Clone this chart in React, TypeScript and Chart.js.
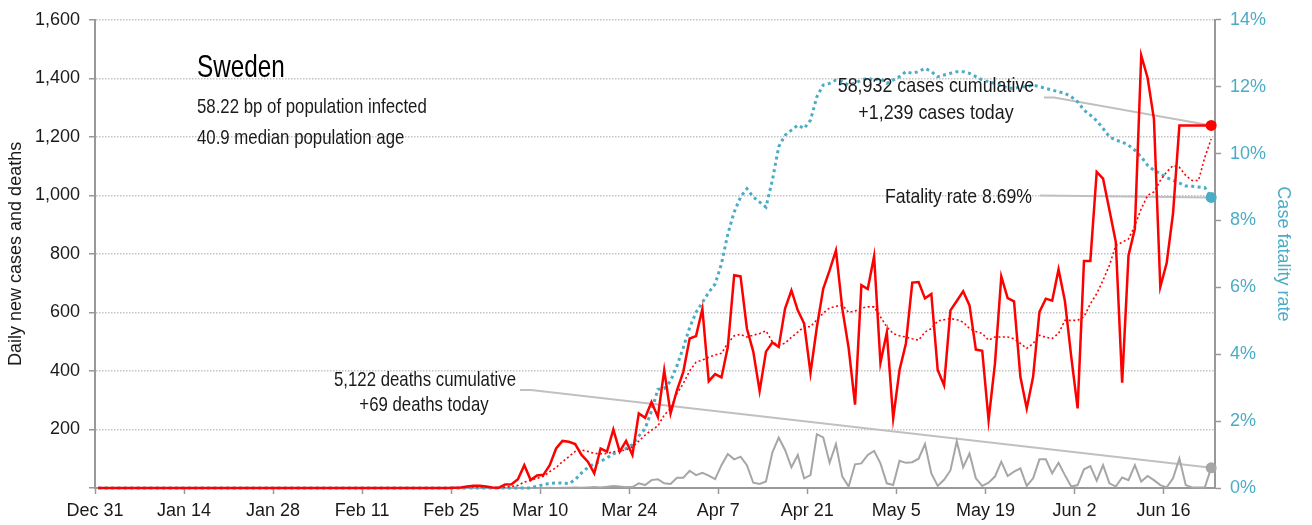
import React, { useEffect, useRef } from 'react';
import { Chart, registerables } from 'chart.js';

Chart.register(...registerables);

// ---------- data ----------
const X_TICK_DAYS = [0, 14, 28, 42, 56, 70, 84, 98, 112, 126, 140, 154, 168];
const X_TICK_LABELS = ['Dec 31', 'Jan 14', 'Jan 28', 'Feb 11', 'Feb 25', 'Mar 10', 'Mar 24', 'Apr 7', 'Apr 21', 'May 5', 'May 19', 'Jun 2', 'Jun 16'];
const X_MAX_DAY = 176.1;
const DAY_POINT_OFFSET = 0.5; // daily values are plotted mid-day

const dailyCases = [
  0, 0, 0, 0, 0, 0, 0, 0, 0, 0,
  0, 0, 0, 0, 0, 0, 0, 0, 0, 0,
  0, 0, 0, 0, 0, 0, 0, 0, 0, 0,
  0, 0, 0, 0, 0, 0, 0, 0, 0, 0,
  0, 0, 0, 0, 0, 0, 0, 0, 0, 0,
  0, 0, 0, 0, 0, 0, 1, 2, 5, 8,
  8, 5, 2, 1, 12, 13, 30, 78, 27, 43,
  45, 78, 135, 161, 158, 150, 113, 90, 50, 135,
  124, 200, 124, 161, 113, 255, 240, 294, 243, 403,
  255, 334, 397, 511, 519, 612, 365, 389, 378, 482,
  727, 723, 545, 466, 332, 466, 497, 482, 613, 675,
  607, 562, 393, 550, 681, 744, 812, 613, 478, 285,
  693, 680, 792, 428, 532, 238, 403, 494, 702, 704,
  648, 663, 403, 351, 607, 639, 672, 624, 473, 469,
  232, 425, 723, 649, 638, 380, 272, 380, 602, 647,
  640, 747, 639, 448, 272, 776, 776, 1080, 1057, 950,
  841, 360, 795, 886, 1478, 1402, 1261, 687, 769, 938,
  1239, 1239, 1239, 1239, 1239, 1239,
];

const casesAverage = [
  0, 0, 0, 0, 0, 0, 0, 0, 0, 0,
  0, 0, 0, 0, 0, 0, 0, 0, 0, 0,
  0, 0, 0, 0, 0, 0, 0, 0, 0, 0,
  0, 0, 0, 0, 0, 0, 0, 0, 0, 0,
  0, 0, 0, 0, 0, 0, 0, 0, 0, 0,
  0, 0, 0, 0, 0, 0, 0, 0, 0, 0,
  0, 0, 0, 1, 3, 5, 9, 20, 27, 33,
  40, 56, 70, 90, 107, 125, 130, 125, 118, 117,
  118, 124, 127, 130, 140, 160, 181, 198, 212, 249,
  272, 323, 357, 400, 430, 437, 447, 455, 460, 495,
  520, 525, 516, 522, 528, 537, 500, 488, 495, 515,
  533, 551, 551, 575, 598, 615, 621, 625, 600, 605,
  615, 619, 619, 585, 550, 528, 520, 516, 510, 505,
  533, 545, 571, 575, 579, 575, 567, 545, 535, 528,
  505, 516, 516, 516, 510, 494, 477, 494, 522, 515,
  511, 528, 573, 573, 573, 585, 630, 664, 710, 761,
  829, 840, 851, 897, 954, 1000, 1012, 1051, 1080, 1102,
  1096, 1068, 1051, 1051, 1130, 1193,
];

const dailyDeaths = [
  0, 0, 0, 0, 0, 0, 0, 0, 0, 0,
  0, 0, 0, 0, 0, 0, 0, 0, 0, 0,
  0, 0, 0, 0, 0, 0, 0, 0, 0, 0,
  0, 0, 0, 0, 0, 0, 0, 0, 0, 0,
  0, 0, 0, 0, 0, 0, 0, 0, 0, 0,
  0, 0, 0, 0, 0, 0, 0, 0, 0, 0,
  0, 0, 0, 0, 0, 0, 0, 0, 0, 0,
  0, 1, 0, 1, 1, 2, 1, 2, 3, 2,
  4, 7, 5, 3, 3, 16, 10, 27, 30, 16,
  14, 35, 35, 59, 44, 52, 42, 30, 78, 116,
  98, 107, 78, 18, 14, 22, 121, 172, 130, 71,
  113, 33, 44, 184, 173, 86, 150, 39, 5, 81,
  84, 113, 127, 84, 16, 10, 93, 86, 88, 100,
  150, 50, 7, 28, 60, 160, 71, 118, 33, 7,
  18, 39, 90, 41, 56, 67, 7, 33, 98, 98,
  50, 86, 44, 5, 10, 64, 75, 25, 78, 16,
  5, 36, 27, 78, 22, 41, 27, 10, 2, 33,
  101, 10, 2, 2, 2, 69,
];

const fatalityRate = [
  0, 0, 0, 0, 0, 0, 0, 0, 0, 0,
  0, 0, 0, 0, 0, 0, 0, 0, 0, 0,
  0, 0, 0, 0, 0, 0, 0, 0, 0, 0,
  0, 0, 0, 0, 0, 0, 0, 0, 0, 0,
  0, 0, 0, 0, 0, 0, 0, 0, 0, 0,
  0, 0, 0, 0, 0, 0, 0, 0, 0, 0,
  0, 0, 0, 0, 0, 0, 0, 0, 0, 0.05,
  0.1, 0.14, 0.15, 0.15, 0.13, 0.25, 0.45, 0.62, 0.72, 0.8,
  0.9, 1.02, 1.1, 1.18, 1.3, 1.55, 1.78, 2.3, 2.95, 2.97,
  3.2, 3.65, 4.2, 4.8, 5.25, 5.55, 5.85, 6.1, 6.7, 7.6,
  8.25, 8.7, 8.95, 8.7, 8.55, 8.4, 9.2, 10.2, 10.55, 10.7,
  10.85, 10.75, 11.0, 11.7, 12.05, 12.1, 12.2, 12.15, 12.05, 12.1,
  12.2, 12.25, 12.2, 12.25, 12.1, 12.2, 12.3, 12.45, 12.4, 12.45,
  12.55, 12.45, 12.3, 12.35, 12.4, 12.45, 12.45, 12.4, 12.3, 12.2,
  12.15, 12.1, 12.05, 11.95, 11.95, 12.0, 12.0, 12.05, 12.0, 11.95,
  11.9, 11.85, 11.8, 11.7, 11.55, 11.3, 11.15, 10.98, 10.75, 10.5,
  10.4, 10.35, 10.25, 10.1, 9.9, 9.65, 9.5, 9.4, 9.28, 9.2,
  9.12, 9.03, 9.02, 9.0, 8.98, 8.69,
];

const TITLE = 'Sweden';
const SUBTITLE_LINES = ['58.22 bp of population infected', '40.9 median population age'];
const CASES_NOTE = ['58,932 cases cumulative', '+1,239 cases today'];
const FATALITY_NOTE = 'Fatality rate 8.69%';
const DEATHS_NOTE = ['5,122 deaths cumulative', '+69 deaths today'];

// ---------- styles ----------
const RED = '#ff0000';
const BLUE = '#4bacc6';
const GRAY = '#a6a6a6';
const AXIS = '#999999';
const TEXT = '#1a1a1a';
const LEADER = '#c0c0c0';

function hasFont(name: string): boolean {
  const c = document.createElement('canvas').getContext('2d');
  if (!c) return false;
  const s = 'abcdefghijklmnopqrstuvwxyzABCDEFGHIJ0123456789';
  c.font = '40px monospace';
  const a = c.measureText(s).width;
  c.font = `40px "${name}", monospace`;
  const b = c.measureText(s).width;
  c.font = '40px serif';
  const a2 = c.measureText(s).width;
  c.font = `40px "${name}", serif`;
  const b2 = c.measureText(s).width;
  return a !== b || a2 !== b2;
}

function drawScaledText(
  ctx: CanvasRenderingContext2D,
  text: string,
  x: number,
  y: number,
  font: string,
  sx: number,
  align: 'left' | 'center' | 'right',
  color: string
) {
  ctx.save();
  ctx.font = font;
  ctx.fillStyle = color;
  ctx.textBaseline = 'alphabetic';
  ctx.textAlign = 'left';
  const w = ctx.measureText(text).width * sx;
  const x0 = align === 'center' ? x - w / 2 : align === 'right' ? x - w : x;
  ctx.translate(x0, y);
  ctx.scale(sx, 1);
  ctx.fillText(text, 0, 0);
  ctx.restore();
}

export default function App() {
  const canvasRef = useRef<HTMLCanvasElement>(null);

  useEffect(() => {
    document.body.style.margin = '0';
    const canvas = canvasRef.current;
    if (!canvas) return;

    const narrow = hasFont('Liberation Sans Narrow');
    const family = narrow ? '"Liberation Sans Narrow", "Liberation Sans", sans-serif' : '"Liberation Sans", Arial, sans-serif';
    const tickSize = narrow ? 20 : 18;
    const titleSize = narrow ? 21 : 18;
    const k = narrow ? 1 / 0.82 : 1;
    const bigScale = 0.76 * k;

    const last = dailyCases.length - 1;
    const dayPositions = dailyCases.map((_, i) => i + DAY_POINT_OFFSET);
    const endDot = (color: string) => ({
      pointRadius: (c: any) => (c.dataIndex === last ? 5.5 : 0),
      pointHoverRadius: 0,
      pointBackgroundColor: color,
      pointBorderWidth: 0,
    });

    const notesPlugin = {
      id: 'notes',
      beforeDatasetsDraw(chart: any) {
        const ctx: CanvasRenderingContext2D = chart.ctx;
        const pc = chart.getDatasetMeta(0).data[last];
        const pf = chart.getDatasetMeta(2).data[last];
        const pd = chart.getDatasetMeta(3).data[last];
        const path = (pts: number[][]) => {
          ctx.beginPath();
          ctx.moveTo(pts[0][0], pts[0][1]);
          for (let i = 1; i < pts.length; i++) ctx.lineTo(pts[i][0], pts[i][1]);
          ctx.stroke();
        };
        ctx.save();
        ctx.strokeStyle = LEADER;
        ctx.lineWidth = 2;
        path([[1044, 97.5], [1054, 97.5], [pc.x, pc.y]]);
        path([[1040, 195.5], [pf.x, pf.y]]);
        path([[520, 390], [531, 390], [pd.x, pd.y]]);
        ctx.restore();
      },
      afterDraw(chart: any) {
        const ctx: CanvasRenderingContext2D = chart.ctx;
        const f = (s: number) => `${s}px ${family}`;
        drawScaledText(ctx, TITLE, 197, 77, f(32), bigScale, 'left', '#000');
        drawScaledText(ctx, SUBTITLE_LINES[0], 197, 113, f(21), 0.8 * k, 'left', TEXT);
        drawScaledText(ctx, SUBTITLE_LINES[1], 197, 144, f(21), 0.8 * k, 'left', TEXT);
        drawScaledText(ctx, CASES_NOTE[0], 936, 92, f(21), 0.85 * k, 'center', TEXT);
        drawScaledText(ctx, CASES_NOTE[1], 936, 119, f(21), 0.85 * k, 'center', TEXT);
        drawScaledText(ctx, FATALITY_NOTE, 1032, 203, f(21), 0.84 * k, 'right', TEXT);
        drawScaledText(ctx, DEATHS_NOTE[0], 425, 386, f(21), 0.8 * k, 'center', TEXT);
        drawScaledText(ctx, DEATHS_NOTE[1], 424, 411, f(21), 0.8 * k, 'center', TEXT);
      },
    };

    const tickFont = { family, size: tickSize };
    const titleFont = { family, size: titleSize };

    const chart = new Chart(canvas, {
      type: 'line',
      data: {
        labels: dayPositions,
        datasets: [
          {
            label: 'Daily new cases',
            data: dailyCases,
            borderColor: RED,
            borderWidth: 2.5,
            yAxisID: 'y',
            tension: 0,
            clip: false,
            ...endDot(RED),
          } as any,
          {
            label: 'Cases 7-day average',
            data: casesAverage,
            borderColor: RED,
            borderWidth: 1.6,
            borderDash: [2, 2.5],
            yAxisID: 'y',
            tension: 0,
            pointRadius: 0,
            pointHoverRadius: 0,
          },
          {
            label: 'Case fatality rate',
            data: fatalityRate,
            borderColor: BLUE,
            borderWidth: 3,
            borderDash: [3, 3.4],
            yAxisID: 'y1',
            tension: 0,
            clip: false,
            ...endDot(BLUE),
          } as any,
          {
            label: 'Daily deaths',
            data: dailyDeaths,
            borderColor: GRAY,
            borderWidth: 2,
            yAxisID: 'y',
            tension: 0,
            clip: false,
            ...endDot(GRAY),
          } as any,
        ],
      },
      options: {
        animation: false,
        responsive: false,
        devicePixelRatio: 1,
        events: [],
        layout: { padding: { top: 19, left: 0, right: 0, bottom: 0 } },
        plugins: {
          legend: { display: false },
          tooltip: { enabled: false },
          title: { display: false },
        },
        scales: {
          x: {
            type: 'linear',
            min: 0,
            max: X_MAX_DAY,
            afterBuildTicks: (s: any) => {
              s.ticks = X_TICK_DAYS.map((v) => ({ value: v }));
            },
            afterFit: (s: any) => {
              s.height = 37;
            },
            ticks: {
              autoSkip: false,
              maxRotation: 0,
              minRotation: 0,
              padding: 6,
              color: TEXT,
              font: tickFont,
              callback: (_v: any, i: number) => X_TICK_LABELS[i],
            },
            grid: { drawOnChartArea: false, drawTicks: true, tickLength: 6, tickColor: AXIS, tickWidth: 1.5 },
            border: { display: true, color: AXIS, width: 2 },
          },
          y: {
            type: 'linear',
            position: 'left',
            min: 0,
            max: 1600,
            afterFit: (s: any) => {
              s.width = 95;
            },
            ticks: {
              stepSize: 200,
              padding: 9,
              color: TEXT,
              font: tickFont,
              callback: (v: any) => (v === 0 ? '' : Number(v).toLocaleString('en-US')),
            },
            grid: {
              color: '#c4c4c4',
              lineWidth: 1.5,
              drawTicks: true,
              tickLength: 6,
              tickColor: AXIS,
              tickWidth: 1.5,
              tickBorderDash: [],
            } as any,
            border: { display: true, color: AXIS, width: 2, dash: [1.5, 1.5] },
            title: { display: true, text: 'Daily new cases and deaths', color: TEXT, font: titleFont, padding: { top: 5, bottom: 0 } },
          },
          y1: {
            type: 'linear',
            position: 'right',
            min: 0,
            max: 14,
            afterFit: (s: any) => {
              s.width = 97;
            },
            ticks: {
              stepSize: 2,
              padding: 9,
              color: BLUE,
              font: tickFont,
              callback: (v: any) => `${v}%`,
            },
            grid: { drawOnChartArea: false, drawTicks: true, tickLength: 6, tickColor: AXIS, tickWidth: 1.5 },
            border: { display: true, color: AXIS, width: 2 },
            title: { display: true, text: 'Case fatality rate', color: BLUE, font: titleFont, padding: { top: 18, bottom: 0 } },
          },
        },
      } as any,
      plugins: [notesPlugin],
    });

    return () => chart.destroy();
  }, []);

  return (
    <div style={{ width: 1312, height: 525 }}>
      <canvas ref={canvasRef} width={1312} height={525} style={{ display: 'block', width: 1312, height: 525 }} />
    </div>
  );
}
